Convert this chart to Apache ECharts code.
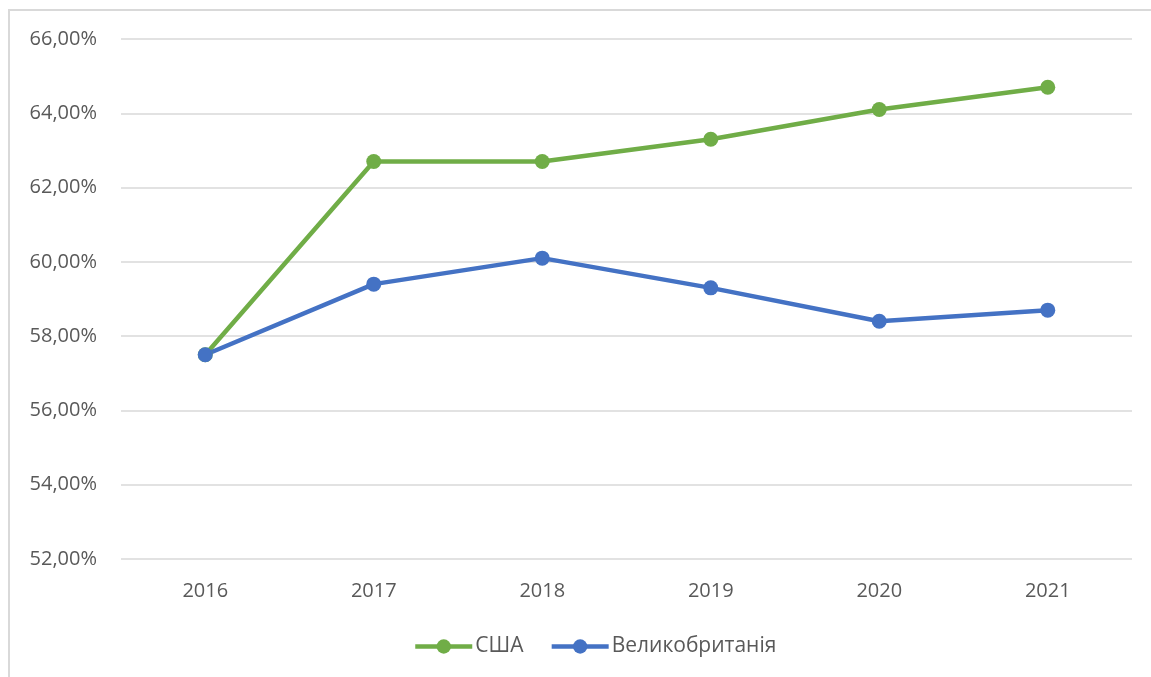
<!DOCTYPE html>
<html lang="uk">
<head>
    <meta charset="UTF-8">
    <title>США / Великобританія</title>
    <script type="text/javascript" src="https://cdn.jsdelivr.net/npm/echarts@6/dist/echarts.min.js"></script>
    <style>
        html, body { margin: 0; padding: 0; background: #fff; }
    </style>
</head>
<body>
<div id="main" style="width: 1151px;height:677px"></div>

<script type="text/javascript">
    var years = ['2016', '2017', '2018', '2019', '2020', '2021'];
    var usa = [57.5, 62.7, 62.7, 63.3, 64.1, 64.7];
    var uk = [57.5, 59.4, 60.1, 59.3, 58.4, 58.7];
    var seriesNames = ['США', 'Великобританія'];

    var chartDom = document.getElementById('main');
    var myChart = echarts.init(chartDom);
    var font = '"Open Sans", "Liberation Sans", sans-serif';
    var option;

    option = {
        animation: false,
        textStyle: { fontFamily: font },
        graphic: [{
            type: 'rect',
            shape: { x: 9, y: 10, width: 1200, height: 700 },
            style: { fill: 'none', stroke: '#d9d9d9', lineWidth: 2 }
        }],
        grid: { left: 121, right: 19, top: 39, bottom: 118 },
        legend: {
            bottom: 15,
            left: 408,
            itemWidth: 57,
            itemHeight: 18,
            itemGap: 26,
            lineStyle: { width: 4.5 },
            textStyle: { color: '#595959', fontSize: 21, fontFamily: font, padding: [0, 0, 0, -2] },
            data: seriesNames
        },
        xAxis: {
            type: 'category',
            data: years,
            axisLine: { show: false },
            axisTick: { show: false },
            axisLabel: { color: '#595959', fontSize: 20, margin: 22 }
        },
        yAxis: {
            type: 'value',
            min: 52,
            max: 66,
            interval: 2,
            axisLine: { show: false },
            axisTick: { show: false },
            splitLine: { lineStyle: { color: '#d9d9d9', width: 1.5 } },
            axisLabel: {
                color: '#595959',
                fontSize: 20,
                margin: 24,
                formatter: function (v) { return v.toFixed(2).replace('.', ',') + '%'; }
            }
        },
        series: [
            {
                name: seriesNames[0],
                type: 'line',
                data: usa,
                symbol: 'circle',
                symbolSize: 15,
                itemStyle: { color: '#70ad47' },
                lineStyle: { color: '#70ad47', width: 4.5 }
            },
            {
                name: seriesNames[1],
                type: 'line',
                data: uk,
                symbol: 'circle',
                symbolSize: 15,
                itemStyle: { color: '#4472c4' },
                lineStyle: { color: '#4472c4', width: 4.5 }
            }
        ]
    };

    option && myChart.setOption(option);
</script>
</body>
</html>
